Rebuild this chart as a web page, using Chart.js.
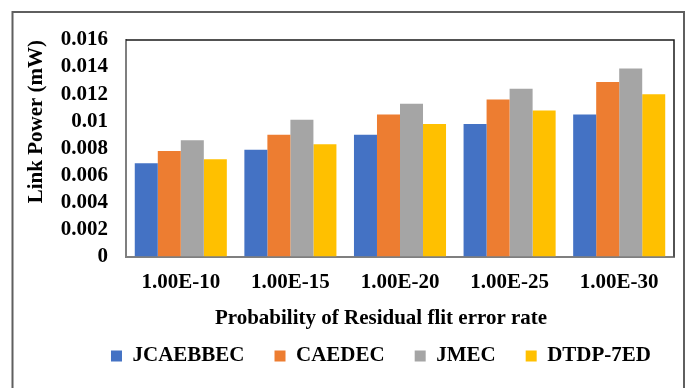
<!DOCTYPE html>
<html>
<head>
<meta charset="utf-8">
<script src="https://cdn.jsdelivr.net/npm/chart.js@4.4.1/dist/chart.umd.min.js"></script>
<style>
  html, body { margin: 0; padding: 0; background: #ffffff; }
  canvas { display: block; }
</style>
</head>
<body>
<canvas id="chart" width="690" height="388"></canvas>
<script>
// Link power (mW) for each residual flit error probability
const categories = ['1.00E-10', '1.00E-15', '1.00E-20', '1.00E-25', '1.00E-30'];
const seriesNames = ['JCAEBBEC', 'CAEDEC', 'JMEC', 'DTDP-7ED'];
const jcaebbec = [0.0069, 0.0079, 0.0090, 0.0098, 0.0105];
const caedec   = [0.0078, 0.0090, 0.0105, 0.0116, 0.0129];
const jmec     = [0.0086, 0.0101, 0.0113, 0.0124, 0.0139];
const dtdp7ed  = [0.0072, 0.0083, 0.0098, 0.0108, 0.0120];
const yTickLabels = ['0', '0.002', '0.004', '0.006', '0.008', '0.01', '0.012', '0.014', '0.016'];

const SERIF = "'Liberation Serif', 'Times New Roman', serif";
const colors = ['#4472C4', '#ED7D31', '#A5A5A5', '#FFC000'];
const values = [jcaebbec, caedec, jmec, dtdp7ed];

// Outer chart frame and the top/right edges of the plot box
const framePlugin = {
  id: 'frame',
  beforeDraw(chart) {
    const ctx = chart.ctx;
    ctx.save();
    ctx.strokeStyle = '#5f5f5f';
    ctx.lineWidth = 2;
    ctx.beginPath();
    ctx.moveTo(12.5, 400);
    ctx.lineTo(12.5, 12);
    ctx.lineTo(684, 12);
    ctx.lineTo(684, 400);
    ctx.stroke();
    ctx.restore();
  },
  afterDatasetsDraw(chart) {
    const { ctx, chartArea: a } = chart;
    ctx.save();
    ctx.strokeStyle = '#1a1a1a';
    ctx.lineWidth = 1.5;
    ctx.beginPath();
    ctx.moveTo(a.left, a.top);
    ctx.lineTo(a.right, a.top);
    ctx.lineTo(a.right, a.bottom);
    ctx.stroke();
    ctx.restore();
  }
};

// Axis title and legend: centred a little right of the canvas middle, packed under the ticks
const bottomBlocks = {
  id: 'bottomBlocks',
  afterLayout(chart) {
    const dx = 37;
    const lg = chart.legend;
    const tb = chart.titleBlock;
    if (tb) {
      const h = tb.height;
      tb.left += dx; tb.right += dx;
      tb.top = 295; tb.bottom = 295 + h;
    }
    if (lg) {
      lg.left += dx; lg.right += dx;
      lg.top = 315.5; lg.bottom = 388;
    }
  }
};

new Chart(document.getElementById('chart'), {
  type: 'bar',
  data: {
    labels: categories,
    datasets: seriesNames.map((name, i) => ({
      label: name,
      data: values[i],
      backgroundColor: colors[i],
      borderWidth: 0,
      categoryPercentage: 0.84,
      barPercentage: 1.0
    }))
  },
  options: {
    responsive: false,
    animation: false,
    devicePixelRatio: 1,
    layout: { padding: { left: 14, right: 16, top: 40, bottom: 4 } },
    scales: {
      x: {
        grid: { display: false, drawTicks: false },
        border: { display: true, color: '#7f7f7f', width: 2 },
        ticks: {
          color: '#000000',
          padding: 13,
          maxRotation: 0,
          font: { family: SERIF, size: 21, weight: 'bold' }
        }
      },
      y: {
        min: 0,
        max: 0.016,
        grid: { display: false, drawTicks: false },
        border: { display: true, color: '#7f7f7f', width: 2 },
        ticks: {
          stepSize: 0.002,
          autoSkip: false,
          color: '#000000',
          padding: 18,
          font: { family: SERIF, size: 21, weight: 'bold' },
          callback: (v, i) => yTickLabels[i]
        },
        title: {
          display: true,
          text: 'Link Power (mW)',
          align: 'end',
          color: '#000000',
          padding: { top: 10, bottom: 0 },
          font: { family: SERIF, size: 21, weight: 'bold' }
        },
        afterFit(scale) { scale.width = 112; }
      }
    },
    plugins: {
      title: {
        display: true,
        position: 'bottom',
        weight: 500,
        text: 'Probability of Residual flit error rate',
        color: '#000000',
        padding: { top: 11, bottom: 0 },
        font: { family: SERIF, size: 21, weight: 'bold' }
      },
      legend: {
        position: 'bottom',
        maxHeight: 40,
        labels: {
          color: '#000000',
          boxWidth: 11,
          boxHeight: 11,
          padding: 30,
          font: { family: SERIF, size: 21, weight: 'bold' }
        }
      },
      tooltip: { enabled: false }
    }
  },
  plugins: [framePlugin, bottomBlocks]
});
</script>
</body>
</html>
